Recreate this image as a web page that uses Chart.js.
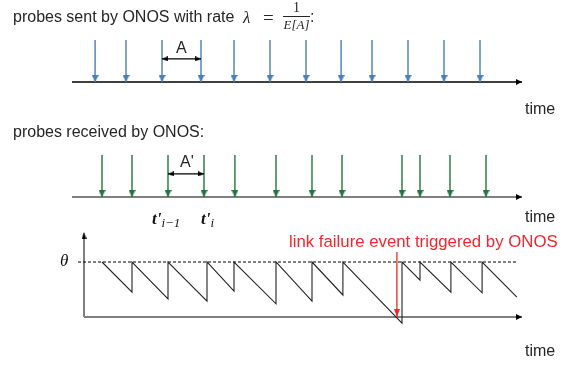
<!DOCTYPE html>
<html>
<head>
<meta charset="utf-8">
<script src="https://cdn.jsdelivr.net/npm/chart.js@4"></script>
<style>
  body { margin: 0; width: 571px; height: 366px; background: #fff; position: relative; overflow: hidden;
         font-family: "Liberation Sans", Arial, sans-serif; color: #262626; }
  canvas { position: absolute; left: 0; }
  .lbl { position: absolute; font-size: 16px; line-height: 1; white-space: nowrap; z-index: 2; }
  .math { font-family: "Liberation Serif", "DejaVu Serif", serif; font-style: italic; }
  .frac { position: absolute; left: 283px; top: 1px; width: 27px; text-align: center; z-index: 2;
          font-family: "Liberation Serif", serif; color: #262626; }
  .frac .num { font-size: 14px; line-height: 14px; }
  .frac .bar { height: 1px; background: #262626; margin: 1px 0 1px 0; }
  .frac .den { font-size: 13px; line-height: 14px; font-style: italic; }
</style>
</head>
<body>
<canvas id="sent" width="571" height="100" style="top:0"></canvas>
<canvas id="recv" width="571" height="110" style="top:100px"></canvas>
<canvas id="theta" width="571" height="125" style="top:220px"></canvas>

<div class="lbl" style="left:13px; top:9px;">probes sent by ONOS with rate</div>
<div class="lbl math" style="left:243px; top:9px; font-size:17px;">λ</div>
<div class="lbl" style="left:263px; top:8px; font-family:'Liberation Serif', serif; font-size:19px;">=</div>
<div class="frac"><div class="num">1</div><div class="bar"></div><div class="den">E[A]</div></div>
<div class="lbl" style="left:310px; top:9px;">:</div>
<div class="lbl" style="left:176px; top:40px;">A</div>
<div class="lbl" style="left:525px; top:101px;">time</div>

<div class="lbl" style="left:13px; top:124px;">probes received by ONOS:</div>
<div class="lbl" style="left:180px; top:154px;">A'</div>
<div class="lbl" style="left:525px; top:209px;">time</div>
<div class="lbl math" style="left:152px; top:210px; font-size:17px; color:#111;"><b>t'</b><span style="font-size:13px; position:relative; top:3px;">i−1</span></div>
<div class="lbl math" style="left:201px; top:210px; font-size:17px; color:#111;"><b>t'</b><span style="font-size:13px; position:relative; top:3px;">i</span></div>

<div class="lbl math" style="left:60px; top:252px; font-size:17px; color:#111;">θ</div>
<div class="lbl" style="left:289px; top:234px; font-size:16.8px; color:#f0282d;">link failure event triggered by ONOS</div>
<div class="lbl" style="left:525px; top:343px;">time</div>

<script>
// probe times (same time units for all three panels)
const sentTimes = [0.37, 1.4, 2.6, 3.9, 5.0, 6.2, 7.4, 8.57, 9.6, 10.8, 12.0, 13.2];
const recvTimes = [0.6, 1.6, 2.8, 4.0, 5.03, 6.4, 7.6, 8.6, 10.6, 11.2, 12.2, 13.4];

// timer value vs threshold theta (theta = 1)
const sawTimes = [0.6, 1.6, 1.6, 2.8, 2.8, 4.1, 4.1, 5.0, 5.0, 6.4, 6.4, 7.6, 7.6, 8.63, 8.63, 10.6, 10.6, 11.2, 11.2, 12.23, 12.23, 13.27, 13.27, 14.43];
const sawValues = [1, 0.45, 1, 0.33, 1, 0.29, 1, 0.47, 1, 0.24, 1, 0.29, 1, 0.40, 1, -0.11, 1, 0.67, 1, 0.45, 1, 0.44, 1, 0.36];
const thetaLevel = 1;
const failureTime = 10.43;
const failureTop = 1.18;

const axisStart = -0.4, axisEnd = 14.6;
const yAxisTop = 1.53;
const gapLevel = 0.55;  // height of the A / A' double arrows

const BLUE = '#4a7ebb', GREEN = '#23743f', GREY = '#7f7f7f', RED = '#f0282d';

// arrow head image: tip sits at the centre of the canvas, pointing down
function head(color, w, h) {
    const c = document.createElement('canvas');
    c.width = w;
    c.height = h * 2;
    const g = c.getContext('2d');
    g.fillStyle = color;
    g.beginPath();
    g.moveTo(0, 0);
    g.lineTo(w, 0);
    g.lineTo(w / 2, h);
    g.closePath();
    g.fill();
    return c;
}

function shafts(times, top) {
    return times.flatMap(t => [{x: t, y: top}, {x: t, y: 0}, {x: t, y: null}]);
}

function base(extra) {
    return Object.assign({clip: false, pointRadius: 0, fill: false, tension: 0, spanGaps: false}, extra);
}

function heads(points, color, w, h, rotation) {
    return base({data: points, showLine: false, pointStyle: head(color, w, h), pointRadius: 3, pointRotation: rotation});
}

function panel(id, padTop, padBottom, yMax, datasets) {
    return new Chart(document.getElementById(id), {
        type: 'line',
        data: {datasets},
        options: {
            responsive: false,
            animation: false,
            events: [],
            layout: {padding: {left: 84, right: 37, top: padTop, bottom: padBottom}},
            plugins: {legend: {display: false}, tooltip: {enabled: false}},
            scales: {
                x: {type: 'linear', min: 0, max: 15, display: false},
                y: {type: 'linear', min: 0, max: yMax, display: false}
            }
        }
    });
}

function probePanel(id, padTop, padBottom, times, color, axisColor, axisWidth, i) {
    return panel(id, padTop, padBottom, 1, [
        heads(times.map(t => ({x: t, y: 0})), color, 7, 7, 0),
        heads([{x: times[i], y: gapLevel}, {x: times[i + 1], y: gapLevel}], '#000', 5, 6, [90, 270]),
        heads([{x: axisEnd, y: 0}], '#000', 6, 6, 270),
        base({data: [{x: times[i], y: gapLevel}, {x: times[i + 1], y: gapLevel}], borderColor: '#000', borderWidth: 1.2}),
        base({data: shafts(times, 1), borderColor: color, borderWidth: 1.4}),
        base({data: [{x: axisStart, y: 0}, {x: axisEnd, y: 0}], borderColor: axisColor, borderWidth: axisWidth})
    ]);
}

probePanel('sent', 40, 18, sentTimes, BLUE, '#000', 1.5, 2);
probePanel('recv', 55, 13, recvTimes, GREEN, GREY, 2, 2);

panel('theta', 9, 28, 1.6, [
    heads([{x: failureTime, y: 0}], RED, 6, 8, 0),
    heads([{x: 0, y: yAxisTop}], '#000', 5, 6, 180),
    heads([{x: axisEnd, y: 0}], '#000', 6, 6, 270),
    base({data: [{x: failureTime, y: failureTop}, {x: failureTime, y: 0}], borderColor: RED, borderWidth: 1.3}),
    base({data: sawTimes.map((t, k) => ({x: t, y: sawValues[k]})), borderColor: '#222', borderWidth: 1.1}),
    base({data: [{x: -0.2, y: thetaLevel}, {x: sawTimes[sawTimes.length - 1], y: thetaLevel}], borderColor: '#000', borderWidth: 1, borderDash: [3, 2]}),
    base({data: [{x: 0, y: 0}, {x: 0, y: yAxisTop}], borderColor: GREY, borderWidth: 2}),
    base({data: [{x: 0, y: 0}, {x: axisEnd, y: 0}], borderColor: GREY, borderWidth: 2})
]);
</script>
</body>
</html>
